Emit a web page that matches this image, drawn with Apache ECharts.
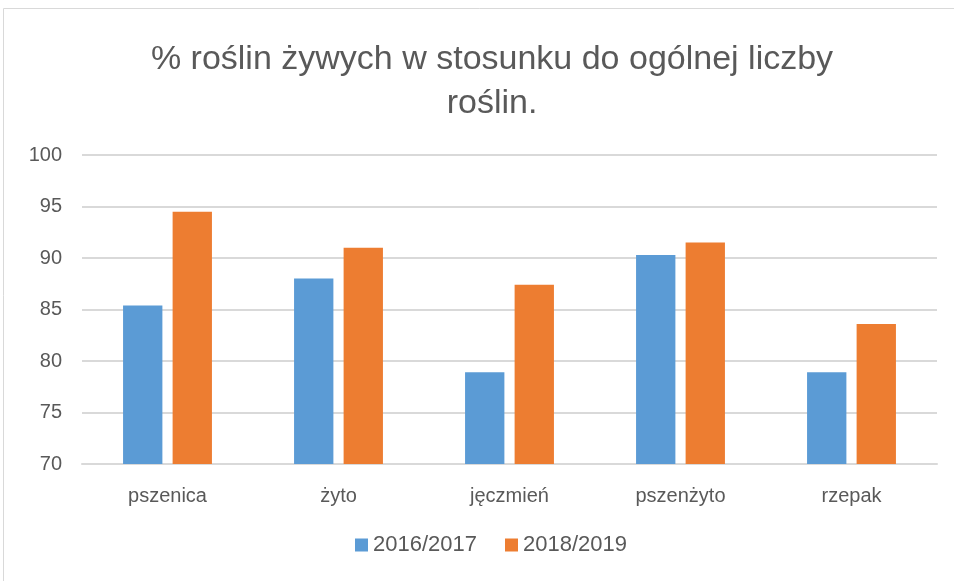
<!DOCTYPE html>
<html><head><meta charset="utf-8">
<script src="https://cdn.jsdelivr.net/npm/echarts@6/dist/echarts.min.js"></script>
<style>html,body{margin:0;padding:0;background:#fff}#c{width:954px;height:581px}</style>
</head><body><div id="c"></div>
<script>
const categories = ['pszenica', 'żyto', 'jęczmień', 'pszenżyto', 'rzepak'];
const series2016 = [85.4, 88.0, 78.9, 90.3, 78.9];
const series2018 = [94.5, 91.0, 87.4, 91.5, 83.6];
const seriesNames = ['2016/2017', '2018/2019'];
const yTicks = { min: 70, max: 100, interval: 5 };

const chart = echarts.init(document.getElementById('c'));
const font = 'Liberation Sans, Arial, sans-serif';
chart.setOption({
  animation: false,
  graphic: [{ type: 'rect', shape: { x: 3.5, y: 8.5, width: 960, height: 580 }, style: { fill: 'none', stroke: '#d9d9d9', lineWidth: 1 } }],
  title: {
    text: '% roślin żywych w stosunku do ogólnej liczby\nroślin.',
    left: 487, top: 33, textAlign: 'center',
    textStyle: { fontFamily: font, fontSize: 34, fontWeight: 'normal', color: '#595959', lineHeight: 44 }
  },
  legend: {
    data: seriesNames, bottom: 20, left: 350, itemWidth: 13, itemHeight: 13, itemGap: 28,
    icon: 'rect',
    textStyle: { fontFamily: font, fontSize: 22, color: '#595959' }
  },
  grid: { left: 82, right: 17, top: 155, bottom: 117, containLabel: false },
  xAxis: {
    type: 'category', data: categories,
    axisLine: { lineStyle: { color: '#d9d9d9', width: 2 } },
    axisTick: { show: false },
    axisLabel: { fontFamily: font, fontSize: 20, color: '#595959', margin: 22 }
  },
  yAxis: {
    type: 'value', min: yTicks.min, max: yTicks.max, interval: yTicks.interval,
    axisLine: { show: false }, axisTick: { show: false },
    splitLine: { lineStyle: { color: '#d9d9d9', width: 2 } },
    axisLabel: { fontFamily: font, fontSize: 20, color: '#595959', margin: 20 }
  },
  series: [
    { name: seriesNames[0], type: 'bar', data: series2016, barWidth: '23%', barGap: '26%', itemStyle: { color: '#5b9bd5' } },
    { name: seriesNames[1], type: 'bar', data: series2018, barWidth: '23%', barGap: '26%', itemStyle: { color: '#ed7d31' } }
  ]
});
</script></body></html>
